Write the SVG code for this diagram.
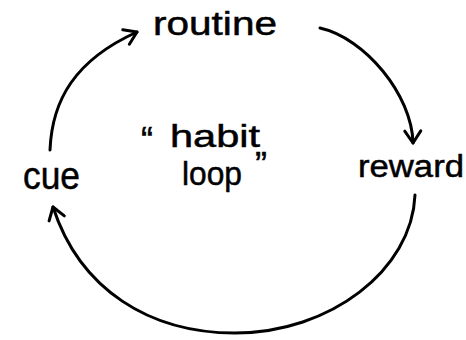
<svg xmlns="http://www.w3.org/2000/svg" width="466" height="340" viewBox="0 0 466 340">
<style>
.lbl{font-family:"Liberation Sans","DejaVu Sans",sans-serif;fill:#000;stroke:#000;stroke-width:0.5;}
.edge{fill:none;stroke:#000;stroke-width:3;stroke-linecap:round;stroke-linejoin:round;}
.head{fill:none;stroke:#000;stroke-width:3;stroke-linecap:round;stroke-linejoin:round;}
</style>
<defs>
<marker id="arr" markerUnits="userSpaceOnUse" viewBox="-16 -16 32 32" markerWidth="32" markerHeight="32" refX="0" refY="0" orient="auto" overflow="visible">
<path class="head" d="M-12,-8 L0,0 L-12,8"/>
</marker>
</defs>
<rect width="466" height="340" fill="#fff"/>
<g id="connectors">
<path class="edge" d="M50,150 C52,100 75,60 137,32" marker-end="url(#arr)"/>
<path class="edge" d="M320,28 C365,38 412,95 413,143" marker-end="url(#arr)"/>
<path class="edge" d="M415,195 C412,270 330,333 235,333 C150,333 80,290 53,207" marker-end="url(#arr)"/>
</g>
<g id="routine"><text class="lbl" x="153" y="35" font-size="34" textLength="124" lengthAdjust="spacingAndGlyphs">routine</text></g>
<g id="reward"><text class="lbl" x="358" y="177" font-size="31" textLength="106" lengthAdjust="spacingAndGlyphs">reward</text></g>
<g id="cue"><text class="lbl" x="23" y="189" font-size="38" textLength="57" lengthAdjust="spacingAndGlyphs">cue</text></g>
<g id="habit-loop">
<text class="lbl" font-size="32"><tspan x="141" y="153" font-size="36">“</tspan><tspan x="170" y="147" textLength="90" lengthAdjust="spacingAndGlyphs">habit</tspan></text>
<text class="lbl" font-size="34"><tspan x="182" y="185" textLength="60" lengthAdjust="spacingAndGlyphs">loop</tspan><tspan x="255" y="178" font-size="36">”</tspan></text>
</g>
</svg>
